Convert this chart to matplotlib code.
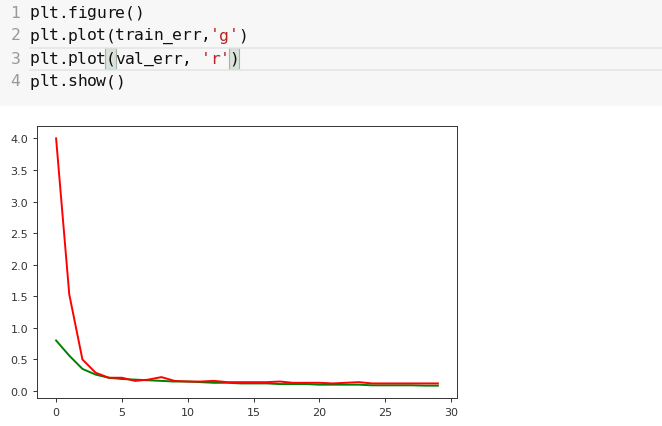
import matplotlib
matplotlib.use("Agg")
import matplotlib.pyplot as plt
from matplotlib.patches import Rectangle

# ---- data ----
epochs = list(range(30))
train_err = [0.80, 0.56, 0.35, 0.26, 0.21, 0.19, 0.18, 0.17, 0.16, 0.15,
             0.15, 0.14, 0.13, 0.13, 0.12, 0.12, 0.12, 0.11, 0.11, 0.11,
             0.10, 0.10, 0.10, 0.10, 0.09, 0.09, 0.09, 0.09, 0.085, 0.085]
val_err = [4.00, 1.53, 0.50, 0.29, 0.21, 0.21, 0.16, 0.18, 0.22, 0.16,
           0.15, 0.15, 0.16, 0.14, 0.14, 0.14, 0.14, 0.15, 0.13, 0.13,
           0.13, 0.12, 0.13, 0.14, 0.12, 0.12, 0.12, 0.12, 0.12, 0.12]
code_lines = ["plt.figure()", "plt.plot(train_err,'g')",
              "plt.plot(val_err, 'r')", "plt.show()"]

W, H = 662, 427
fig = plt.figure(figsize=(W / 100, H / 100), dpi=100)
fig.patch.set_facecolor("white")

# ---- notebook cell background (pixel coordinates) ----
bg = fig.add_axes([0, 0, 1, 1])
bg.set_xlim(0, W)
bg.set_ylim(H, 0)
bg.axis("off")
bg.add_patch(Rectangle((0, 0), W, 107, facecolor="#f7f7f7", edgecolor="none"))
# active line borders
bg.plot([30, W], [48.5, 48.5], color="#e6e6e6", lw=1.2)
bg.plot([30, W], [70.5, 70.5], color="#e6e6e6", lw=1.2)

cw = 9.48
x0 = 30
ys = [13, 36, 59, 82]
mono = "DejaVu Sans Mono"
# matching bracket boxes on line 3
for idx in (8, 21):
    bg.add_patch(Rectangle((x0 + idx * cw - 0.5, 49), cw + 1, 21,
                           facecolor="#d9e3d9", edgecolor="#a8b0a8", lw=0.8))

str_color = "#ba2121"
for i, (line, y) in enumerate(zip(code_lines, ys)):
    bg.text(15.5, y, str(i + 1), ha="center", va="center", family=mono,
            fontsize=11.8, color="#999999")
    for j, ch in enumerate(line):
        col = "#111111"
        if "'" in line:
            a = line.index("'")
            b = line.rindex("'")
            if a <= j <= b:
                col = str_color
        bg.text(x0 + j * cw + cw / 2, y, ch, ha="center", va="center", family=mono,
                fontsize=11.8, color=col)

# ---- chart ----
left, right, top, bottom = 37, 457, 127, 399
ax = fig.add_axes([left / W, (H - bottom) / H, (right - left) / W, (bottom - top) / H])
ax.plot(epochs, train_err, color="g", lw=1.4)
ax.plot(epochs, val_err, color="r", lw=1.4)
ax.tick_params(labelsize=8, length=3, width=0.7, pad=3.5, colors="#333333")
for s in ax.spines.values():
    s.set_linewidth(0.7)
    s.set_color("#333333")

fig.savefig("out.png", dpi=100)
